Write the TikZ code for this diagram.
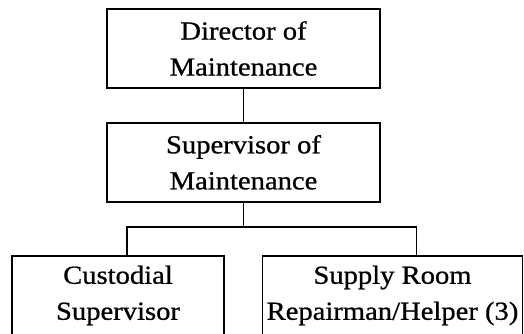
\documentclass[tikz,border=0pt]{standalone}
\usepackage{fontspec}
\setmainfont{Liberation Serif}[FakeStretch=1.1, FakeBold=0.8]
\usepackage{tikz}
\usetikzlibrary{positioning}

\begin{document}
\begin{tikzpicture}[
  x=1pt, y=1pt,
  orgbox/.style={draw, line width=1.8pt, minimum width=273pt, minimum height=79pt, inner sep=0pt, align=center, font=\fontsize{26pt}{36pt}\selectfont},
  link/.style={line width=1.3pt}
]
  \useasboundingbox (0,0) rectangle (524,-333);

  \node[orgbox] (director) at (243.5,-48.5) {Director of\\Maintenance};
  \node[orgbox, below=33pt of director] (supervisor) {Supervisor of\\Maintenance};
  \node[orgbox, minimum width=212pt] (custodial) at (118,-295.5) {Custodial\\Supervisor};
  \node[orgbox, minimum width=260pt] (supply) at (392.5,-295.5) {Supply Room\\Repairman/Helper (3)};

  \coordinate (bar) at (243.5,-227);

  \draw[link] (director) -- (supervisor);
  \draw[link] (supervisor) -- (bar);
  \draw[link] ([xshift=9pt]custodial.north) |- (bar) -| ([xshift=24pt]supply.north);
\end{tikzpicture}
\end{document}
